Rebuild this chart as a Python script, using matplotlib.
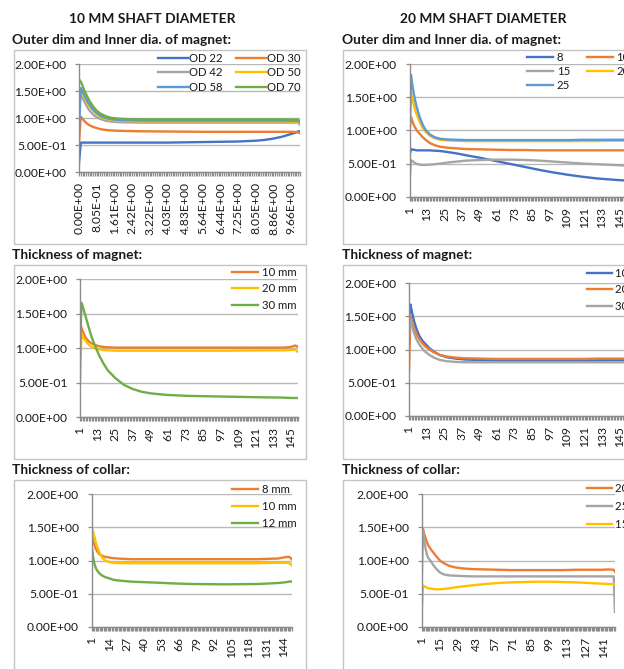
import matplotlib
matplotlib.use("Agg")
import matplotlib.pyplot as plt
from matplotlib.patches import Rectangle
from matplotlib.ticker import FixedLocator, FixedFormatter

plt.rcParams['font.family'] = ['Lato', 'DejaVu Sans']

# ---------------- DATA ----------------
# Panel A: 10 mm shaft, outer dim / inner dia (categories 0..125)
A_n_cat = 126
A_tick_pos = [0, 10, 20, 30, 40, 50, 60, 70, 80, 90, 100, 110, 120]
A_tick_labels = ["0.00E+00", "8.05E-01", "1.61E+00", "2.42E+00", "3.22E+00", "4.03E+00",
                 "4.83E+00", "5.64E+00", "6.44E+00", "7.25E+00", "8.05E+00", "8.86E+00", "9.66E+00"]
A_x = [0, 1, 2, 3, 4, 5, 6, 8, 10, 12, 15, 18, 22, 27, 35, 50, 70, 90, 100, 105, 110, 115, 120, 123, 124, 125]
A_labels = ["OD 22", "OD 30", "OD 42", "OD 50", "OD 58", "OD 70"]
A_od22 = [0.17, 0.55, 0.55, 0.55, 0.55, 0.55, 0.55, 0.55, 0.55, 0.55, 0.55, 0.55, 0.55, 0.55, 0.55, 0.55,
          0.56, 0.57, 0.585, 0.60, 0.625, 0.66, 0.71, 0.74, 0.76, 0.76]
A_od30 = [0.55, 1.03, 0.99, 0.95, 0.92, 0.89, 0.87, 0.84, 0.82, 0.80, 0.785, 0.775, 0.77, 0.765, 0.76, 0.755,
          0.75, 0.75, 0.75, 0.75, 0.75, 0.75, 0.75, 0.745, 0.74, 0.72]
A_od42 = [1.20, 1.45, 1.38, 1.31, 1.25, 1.19, 1.14, 1.07, 1.02, 0.99, 0.955, 0.94, 0.93, 0.925, 0.92, 0.92,
          0.92, 0.92, 0.92, 0.92, 0.92, 0.92, 0.92, 0.92, 0.92, 0.88]
A_od50 = [1.35, 1.50, 1.45, 1.39, 1.33, 1.27, 1.22, 1.14, 1.08, 1.03, 0.99, 0.97, 0.955, 0.95, 0.945, 0.945,
          0.945, 0.945, 0.945, 0.945, 0.945, 0.945, 0.94, 0.94, 0.94, 0.90]
A_od58 = [0.80, 1.56, 1.50, 1.43, 1.36, 1.30, 1.25, 1.16, 1.10, 1.05, 1.01, 0.985, 0.97, 0.965, 0.96, 0.96,
          0.96, 0.96, 0.96, 0.96, 0.96, 0.96, 0.955, 0.955, 0.955, 0.92]
A_od70 = [1.72, 1.68, 1.60, 1.52, 1.45, 1.38, 1.32, 1.22, 1.14, 1.09, 1.04, 1.01, 0.995, 0.985, 0.98, 0.98,
          0.98, 0.98, 0.98, 0.98, 0.98, 0.98, 0.975, 0.975, 0.975, 0.94]

# Panel B: 10 mm shaft, thickness of magnet (categories 1..150)
B_n_cat = 150
B_tick_pos = [1, 13, 25, 37, 49, 61, 73, 85, 97, 109, 121, 133, 145]
B_x = [1, 2, 3, 4, 5, 7, 9, 11, 14, 17, 20, 25, 31, 37, 43, 50, 60, 75, 100, 125, 140, 145, 148, 149, 150]
B_labels = ["10 mm", "20 mm", "30 mm"]
B_10 = [1.36, 1.30, 1.24, 1.19, 1.15, 1.10, 1.07, 1.05, 1.03, 1.02, 1.015, 1.01, 1.01, 1.01, 1.01, 1.01,
        1.01, 1.01, 1.01, 1.01, 1.01, 1.02, 1.04, 1.03, 1.02]
B_20 = [0.49, 1.22, 1.17, 1.13, 1.10, 1.05, 1.02, 1.00, 0.985, 0.975, 0.97, 0.965, 0.965, 0.965, 0.965, 0.965,
        0.965, 0.965, 0.965, 0.97, 0.97, 0.975, 0.98, 0.96, 0.94]
B_30 = [0.90, 1.66, 1.60, 1.52, 1.45, 1.30, 1.16, 1.05, 0.90, 0.78, 0.68, 0.57, 0.47, 0.41, 0.37, 0.345,
        0.325, 0.31, 0.30, 0.29, 0.285, 0.28, 0.28, 0.28, 0.28]

# Panel C: 10 mm shaft, thickness of collar (categories 1..150)
C_n_cat = 150
C_tick_pos = [1, 14, 27, 40, 53, 66, 79, 92, 105, 118, 131, 144]
C_x = [1, 2, 3, 4, 5, 7, 9, 11, 14, 17, 20, 25, 31, 37, 43, 50, 60, 75, 100, 125, 140, 145, 148, 149, 150]
C_labels = ["8 mm", "10 mm", "12 mm"]
C_8 = [1.37, 1.30, 1.24, 1.18, 1.14, 1.09, 1.07, 1.055, 1.045, 1.035, 1.03, 1.025, 1.02, 1.02, 1.02, 1.02,
       1.02, 1.02, 1.02, 1.02, 1.03, 1.05, 1.055, 1.04, 1.02]
C_10 = [1.51, 1.44, 1.36, 1.28, 1.21, 1.11, 1.04, 1.00, 0.975, 0.965, 0.96, 0.96, 0.96, 0.96, 0.96, 0.96,
        0.96, 0.96, 0.96, 0.96, 0.965, 0.965, 0.96, 0.95, 0.93]
C_12 = [1.23, 1.05, 0.95, 0.89, 0.85, 0.80, 0.77, 0.75, 0.73, 0.71, 0.70, 0.69, 0.68, 0.675, 0.67, 0.665,
        0.655, 0.645, 0.64, 0.645, 0.66, 0.67, 0.68, 0.685, 0.68]

# Panel D: 20 mm shaft, outer dim / inner dia (categories 1..150)
D_n_cat = 150
D_tick_pos = [1, 13, 25, 37, 49, 61, 73, 85, 97, 109, 121, 133, 145]
D_x = [1, 2, 3, 4, 5, 6, 8, 10, 12, 15, 18, 22, 27, 33, 40, 50, 60, 70, 80, 90, 100, 110, 120, 130, 140,
       145, 149, 150]
D_labels = ["8", "10", "15", "20", "25"]
D_8 = [0.62, 0.72, 0.71, 0.71, 0.705, 0.70, 0.70, 0.70, 0.70, 0.70, 0.695, 0.69, 0.675, 0.655, 0.625, 0.585,
       0.54, 0.495, 0.45, 0.405, 0.365, 0.33, 0.30, 0.275, 0.258, 0.25, 0.245, 0.245]
D_10 = [1.00, 1.21, 1.14, 1.08, 1.04, 1.00, 0.95, 0.90, 0.86, 0.81, 0.78, 0.755, 0.74, 0.73, 0.72, 0.715,
        0.71, 0.705, 0.705, 0.70, 0.70, 0.70, 0.70, 0.70, 0.70, 0.70, 0.70, 0.70]
D_15 = [0.22, 0.55, 0.54, 0.52, 0.505, 0.495, 0.485, 0.48, 0.48, 0.485, 0.49, 0.50, 0.515, 0.53, 0.545, 0.555,
        0.56, 0.56, 0.555, 0.545, 0.53, 0.515, 0.50, 0.49, 0.48, 0.475, 0.47, 0.47]
D_20 = [0.88, 1.58, 1.47, 1.38, 1.30, 1.24, 1.13, 1.04, 0.98, 0.92, 0.885, 0.86, 0.85, 0.845, 0.84, 0.84,
        0.84, 0.84, 0.84, 0.84, 0.84, 0.84, 0.84, 0.84, 0.845, 0.845, 0.845, 0.845]
D_25 = [0.95, 1.84, 1.68, 1.55, 1.44, 1.35, 1.20, 1.09, 1.01, 0.94, 0.90, 0.875, 0.865, 0.86, 0.855, 0.855,
        0.855, 0.855, 0.855, 0.855, 0.855, 0.855, 0.86, 0.86, 0.86, 0.86, 0.86, 0.86]

# Panel E: 20 mm shaft, thickness of magnet (categories 1..150)
E_n_cat = 150
E_tick_pos = [1, 13, 25, 37, 49, 61, 73, 85, 97, 109, 121, 133, 145]
E_x = D_x
E_labels = ["10 mm", "20 mm", "30 mm"]
E_10 = [1.45, 1.68, 1.57, 1.47, 1.39, 1.32, 1.21, 1.14, 1.09, 1.02, 0.97, 0.92, 0.885, 0.865, 0.85, 0.845,
        0.84, 0.84, 0.84, 0.84, 0.84, 0.84, 0.84, 0.84, 0.845, 0.845, 0.845, 0.845]
E_20 = [0.69, 1.50, 1.42, 1.35, 1.29, 1.24, 1.16, 1.10, 1.05, 1.00, 0.96, 0.92, 0.895, 0.88, 0.87, 0.865,
        0.86, 0.86, 0.86, 0.86, 0.86, 0.86, 0.86, 0.865, 0.865, 0.865, 0.865, 0.865]
E_30 = [1.20, 1.45, 1.36, 1.28, 1.22, 1.16, 1.08, 1.02, 0.97, 0.92, 0.88, 0.845, 0.825, 0.815, 0.81, 0.81,
        0.81, 0.81, 0.81, 0.81, 0.81, 0.81, 0.81, 0.81, 0.81, 0.81, 0.81, 0.81]

# Panel F: 20 mm shaft, thickness of collar (categories 1..150)
F_n_cat = 150
F_tick_pos = [1, 15, 29, 43, 57, 71, 85, 99, 113, 127, 141]
F_x = D_x
F_labels = ["20 mm", "25 mm", "15 mm"]
F_a = [1.50, 1.48, 1.40, 1.34, 1.28, 1.23, 1.17, 1.12, 1.07, 1.00, 0.96, 0.92, 0.895, 0.88, 0.87, 0.865,
       0.86, 0.855, 0.855, 0.855, 0.855, 0.855, 0.86, 0.86, 0.86, 0.865, 0.86, 0.83]
F_b = [0.68, 1.45, 1.30, 1.18, 1.09, 1.04, 0.99, 0.93, 0.88, 0.82, 0.79, 0.775, 0.77, 0.765, 0.76, 0.76,
       0.76, 0.76, 0.76, 0.76, 0.76, 0.76, 0.76, 0.76, 0.76, 0.76, 0.76, 0.22]
F_c = [0.22, 0.62, 0.61, 0.60, 0.59, 0.58, 0.575, 0.57, 0.565, 0.565, 0.57, 0.58, 0.595, 0.61, 0.625, 0.645,
       0.66, 0.67, 0.675, 0.68, 0.68, 0.675, 0.67, 0.66, 0.65, 0.645, 0.64, 0.64]

Y_ticks = [0.0, 0.5, 1.0, 1.5, 2.0]
Y_tick_labels = ["0.00E+00", "5.00E-01", "1.00E+00", "1.50E+00", "2.00E+00"]

# ---------------- STYLE ----------------
BLUE, ORANGE, GRAY, YELLOW, LBLUE, GREEN = "#4472C4", "#ED7D31", "#A5A5A5", "#FFC000", "#5B9BD5", "#70AD47"
FS = 8.7
LFS = 8.2
TFS = 9.9
LW = 1.7
TXT = "#1a1a1a"
W, H = 624, 669

fig = plt.figure(figsize=(W / 100, H / 100), dpi=100)


def fx(px):
    return px / W


def fy(py):
    return 1 - py / H


def make_axes(left, top, right, bottom):
    return fig.add_axes([fx(left), fy(bottom), (right - left) / W, (bottom - top) / H])


def style_axes(ax, first, n_cat, tick_pos, tick_labels):
    last = first + n_cat - 1
    ax.set_xlim(first, last)
    ax.set_ylim(0, 2)
    ax.xaxis.set_major_locator(FixedLocator(tick_pos))
    ax.xaxis.set_major_formatter(FixedFormatter(tick_labels))
    ax.xaxis.set_minor_locator(FixedLocator(list(range(first, last + 1))))
    ax.yaxis.set_major_locator(FixedLocator(Y_ticks))
    ax.yaxis.set_major_formatter(FixedFormatter(Y_tick_labels))
    for s in ("top", "right"):
        ax.spines[s].set_visible(False)
    for s in ("left", "bottom"):
        ax.spines[s].set_color("#8c8c8c")
        ax.spines[s].set_linewidth(1.0)
    ax.grid(axis="y", color="#b8b8b8", linewidth=1.0)
    ax.set_axisbelow(True)
    ax.tick_params(axis="x", which="both", direction="out", length=3.2, width=0.9, color="#8c8c8c",
                   labelsize=FS, labelrotation=90, pad=4.0, labelcolor=TXT)
    ax.tick_params(axis="y", which="both", direction="out", length=3.2, width=0.9, color="#8c8c8c",
                   labelsize=FS, pad=6.0, labelcolor=TXT)
    ax.patch.set_alpha(0)


def place_legend(ax, handles, labels, left_px, top_px, ncol, handlelength, handletextpad,
                 labelspacing, columnspacing=1.0):
    leg = ax.legend(handles, labels, loc="upper left", bbox_to_anchor=(fx(left_px), fy(top_px)),
                    bbox_transform=fig.transFigure, frameon=False, ncol=ncol, fontsize=LFS,
                    handlelength=handlelength, handletextpad=handletextpad, labelspacing=labelspacing,
                    columnspacing=columnspacing, borderpad=0, borderaxespad=0)
    for t in leg.get_texts():
        t.set_color(TXT)


def box(left, top, right, bottom):
    fig.add_artist(Rectangle((fx(left), fy(bottom)), (right - left) / W, (bottom - top) / H,
                             transform=fig.transFigure, fill=False, edgecolor="#c4c4c4", lw=1.0))


# ---------------- TEXT / BOXES ----------------
fig.text(fx(152), fy(19), "10 MM SHAFT DIAMETER", ha="center", va="center", fontsize=TFS,
         fontweight="bold", color=TXT)
fig.text(fx(483), fy(19), "20 MM SHAFT DIAMETER", ha="center", va="center", fontsize=TFS,
         fontweight="bold", color=TXT)
for xx in (12, 342):
    fig.text(fx(xx), fy(40), "Outer dim and Inner dia. of magnet:", ha="left", va="center", fontsize=TFS,
             fontweight="bold", color=TXT)
    fig.text(fx(xx), fy(255), "Thickness of magnet:", ha="left", va="center", fontsize=TFS,
             fontweight="bold", color=TXT)
    fig.text(fx(xx), fy(470), "Thickness of collar:", ha="left", va="center", fontsize=TFS,
             fontweight="bold", color=TXT)

box(14, 50, 306, 244)
box(14, 265, 306, 459)
box(14, 480, 306, 700)
box(343, 50, 700, 244)
box(343, 265, 700, 459)
box(343, 480, 700, 700)

# ---------------- PANEL A ----------------
axA = make_axes(79, 64.3, 300, 172.3)
style_axes(axA, 0, A_n_cat, A_tick_pos, A_tick_labels)
hA = []
for vals, col in zip([A_od22, A_od30, A_od42, A_od50, A_od58, A_od70], [BLUE, ORANGE, GRAY, YELLOW, LBLUE, GREEN]):
    hA += axA.plot(A_x, vals, color=col, lw=LW, solid_joinstyle="round")
order = [0, 2, 4, 1, 3, 5]
place_legend(axA, [hA[i] for i in order], [A_labels[i] for i in order], 158, 53, 2, 2.6, 0.12, 0.3, 1.2)

# ---------------- PANEL B ----------------
axB = make_axes(80, 279.3, 298.3, 417.3)
style_axes(axB, 1, B_n_cat, B_tick_pos, [str(v) for v in B_tick_pos])
hB = []
for vals, col in zip([B_10, B_20, B_30], [ORANGE, YELLOW, GREEN]):
    hB += axB.plot(B_x, vals, color=col, lw=LW, solid_joinstyle="round")
place_legend(axB, hB, B_labels, 232, 267, 1, 2.3, 0.3, 0.48)

# ---------------- PANEL C ----------------
axC = make_axes(91.7, 494.3, 291.7, 626.7)
style_axes(axC, 1, C_n_cat, C_tick_pos, [str(v) for v in C_tick_pos])
hC = []
for vals, col in zip([C_8, C_10, C_12], [ORANGE, YELLOW, GREEN]):
    hC += axC.plot(C_x, vals, color=col, lw=LW, solid_joinstyle="round")
place_legend(axC, hC, C_labels, 232, 484, 1, 2.3, 0.3, 0.52)

# ---------------- PANEL D ----------------
axD = make_axes(409.5, 64.3, 626.8, 196.7)
style_axes(axD, 1, D_n_cat, D_tick_pos, [str(v) for v in D_tick_pos])
hD = []
for vals, col in zip([D_8, D_10, D_15, D_20, D_25], [BLUE, ORANGE, GRAY, YELLOW, LBLUE]):
    hD += axD.plot(D_x, vals, color=col, lw=LW, solid_joinstyle="round")
order = [0, 2, 4, 1, 3]
place_legend(axD, [hD[i] for i in order], [D_labels[i] for i in order], 527, 52, 2, 2.3, 0.3, 0.27, 1.5)

# ---------------- PANEL E ----------------
axE = make_axes(409, 283.3, 627, 416)
style_axes(axE, 1, E_n_cat, E_tick_pos, [str(v) for v in E_tick_pos])
hE = []
for vals, col in zip([E_10, E_20, E_30], [BLUE, ORANGE, GRAY]):
    hE += axE.plot(E_x, vals, color=col, lw=LW, solid_joinstyle="round")
place_legend(axE, hE, E_labels, 587, 268, 1, 2.2, 0.25, 0.48)

# ---------------- PANEL F ----------------
axF = make_axes(421.7, 494.3, 615, 626.7)
style_axes(axF, 1, F_n_cat, F_tick_pos, [str(v) for v in F_tick_pos])
hF = []
for vals, col in zip([F_a, F_b, F_c], [ORANGE, GRAY, YELLOW]):
    hF += axF.plot(F_x, vals, color=col, lw=LW, solid_joinstyle="round")
place_legend(axF, hF, F_labels, 587, 483, 1, 2.2, 0.25, 0.6)

fig.savefig("out.png", dpi=100)
